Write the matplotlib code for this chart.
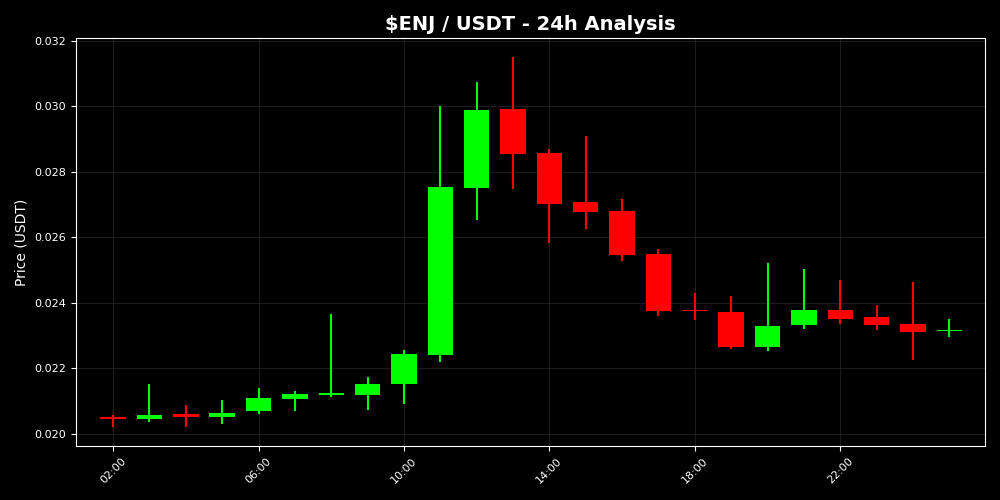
import numpy as np
import pandas as pd
import matplotlib
matplotlib.use("Agg")
import matplotlib.pyplot as plt
import matplotlib.dates as mdates

# hourly candles
times = pd.date_range("2024-01-01 02:00", periods=24, freq="h")
opens = [0.020502, 0.020442, 0.020594, 0.020518, 0.020685, 0.021081, 0.021194, 0.021203,
         0.021523, 0.022406, 0.027508, 0.029898, 0.028558, 0.027066, 0.026792, 0.025482,
         0.023770, 0.023716, 0.022659, 0.023329, 0.023777, 0.023563, 0.023350, 0.023130]
closes = [0.020457, 0.020579, 0.020518, 0.020640, 0.021097, 0.021218, 0.021218, 0.021523,
          0.022437, 0.027532, 0.029868, 0.028537, 0.027014, 0.026771, 0.025452, 0.023755,
          0.023745, 0.022659, 0.023299, 0.023777, 0.023512, 0.023320, 0.023116, 0.023150]
highs = [0.020579, 0.021523, 0.020883, 0.021035, 0.021401, 0.021310, 0.023655, 0.021745,
         0.022558, 0.029990, 0.030751, 0.031513, 0.028702, 0.029097, 0.027157, 0.025634,
         0.024294, 0.024203, 0.025208, 0.025025, 0.024690, 0.023929, 0.024629, 0.023502]
lows = [0.020213, 0.020350, 0.020198, 0.020304, 0.020609, 0.020685, 0.021142, 0.020716,
        0.020914, 0.022202, 0.026518, 0.027462, 0.025826, 0.026244, 0.025278, 0.023603,
        0.023487, 0.022598, 0.022537, 0.023207, 0.023359, 0.023177, 0.022263, 0.022964]

o = np.array(opens)
c = np.array(closes)
colors = np.where(c >= o, "#00ff00", "#ff0000")

fig, ax = plt.subplots(figsize=(10, 5), dpi=100)
fig.patch.set_facecolor("black")
ax.set_facecolor("black")

width = 0.7 / 24
bottom = np.minimum(o, c)
height = np.maximum(np.abs(c - o), 0.00005)
ax.vlines(times, lows, highs, colors=colors, linewidth=1.5, zorder=2)
ax.bar(times, height, width=width, bottom=bottom, color=colors, zorder=3)

ax.set_xlim(times[0] - pd.Timedelta(hours=1.02), times[-1] + pd.Timedelta(hours=0.98))

ax.xaxis.set_major_locator(mdates.HourLocator(byhour=[2, 6, 10, 14, 18, 22]))
ax.xaxis.set_major_formatter(mdates.DateFormatter("%H:%M"))
plt.setp(ax.get_xticklabels(), rotation=45, fontsize=8, color="white")
ax.tick_params(axis="y", labelsize=8, colors="white")
ax.tick_params(axis="x", colors="white")

ax.grid(True, color="#2a2a2a", linewidth=0.6, alpha=0.8)
ax.set_axisbelow(True)
for s in ax.spines.values():
    s.set_color("white")

ax.set_title("$ENJ / USDT - 24h Analysis", color="white", fontsize=14, fontweight="bold")
ax.set_ylabel("Price (USDT)", color="white", fontsize=10)

fig.subplots_adjust(left=0.076, right=0.985, top=0.924, bottom=0.108)
fig.savefig("out.png", facecolor="black")
